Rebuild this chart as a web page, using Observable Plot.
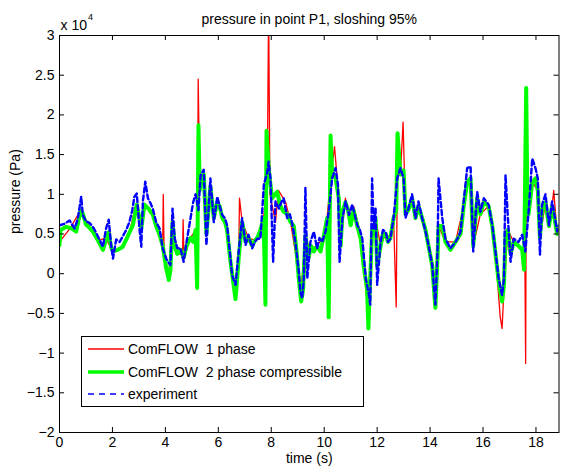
<!DOCTYPE html>
<html><head><meta charset="utf-8">
<script src="https://cdn.jsdelivr.net/npm/d3@7"></script>
<script src="https://cdn.jsdelivr.net/npm/@observablehq/plot@0.6"></script>
<style>body{margin:0;background:#fff} svg{display:block}</style>
</head><body><div id="chart"></div>
<script>
// [time (s), pressure (x 10^4 Pa)]
const experiment = [
  [0,0.61],[0.2,0.63],[0.38,0.67],[0.57,0.57],[0.69,0.69],[0.82,0.97],[0.88,0.74],[1.0,0.66],[1.13,0.64],[1.26,0.59],
  [1.38,0.52],[1.51,0.43],[1.64,0.34],[1.76,0.57],[1.86,0.68],[1.95,0.36],[2.02,0.19],[2.14,0.43],[2.27,0.40],[2.39,0.47],
  [2.52,0.55],[2.64,0.65],[2.75,0.80],[2.83,0.97],[2.92,1.01],[3.02,0.57],[3.09,0.34],[3.15,0.91],[3.24,1.16],[3.34,0.95],
  [3.45,0.88],[3.53,0.81],[3.65,0.65],[3.78,0.57],[3.9,0.32],[4.03,0.19],
  [4.1,0.15],[4.19,0.11],[4.27,0.82],[4.35,0.45],[4.45,0.32],[4.57,0.32],[4.69,0.15],[4.8,0.40],[4.95,0.70],[5.05,0.90],
  [5.14,1.00],[5.25,0.80],[5.33,1.24],[5.45,1.31],[5.55,0.36],[5.7,1.20],[5.83,0.65],[5.96,0.97],[6.05,0.85],[6.15,0.74],
  [6.25,0.70],[6.33,0.61],[6.46,0.19],[6.52,-0.02],[6.65,-0.14],[6.77,0.28],[6.9,0.70],[7.03,0.36],[7.14,0.49],[7.28,0.32],
  [7.38,0.40],[7.47,0.44],
  [7.59,0.44],[7.72,1.12],[7.85,1.28],[7.9,1.41],[7.97,1.20],[8.07,0.15],[8.16,0.91],[8.29,0.82],[8.38,0.90],[8.47,0.95],
  [8.6,0.70],[8.7,0.75],[8.79,0.63],[8.91,0.40],[9.04,0.03],[9.1,-0.23],[9.17,-0.31],[9.23,-0.06],[9.29,1.08],[9.33,0.50],
  [9.36,-0.06],[9.48,0.40],[9.61,0.53],[9.73,0.32],[9.82,0.45],[9.92,0.40],[10.05,0.53],[10.17,0.78],[10.3,1.20],[10.43,1.33],
  [10.52,1.12],[10.58,0.15],[10.69,0.70],[10.81,0.91],[10.94,0.74],[11.06,0.87],[11.15,0.75],[11.25,0.61],[11.35,0.55],[11.44,0.44],
  [11.57,-0.06],[11.69,-0.27],[11.74,-0.39],
  [11.81,1.20],[11.87,0.57],[11.94,0.82],[12.0,-0.14],[12.13,0.40],[12.22,0.55],[12.32,0.53],[12.41,0.40],[12.5,0.44],[12.62,0.70],
  [12.76,1.20],[12.88,1.33],[13.0,1.20],[13.07,0.70],[13.18,0.82],[13.32,1.00],[13.45,0.70],[13.56,0.91],[13.7,0.70],[13.83,0.53],
  [13.94,0.36],[14.08,0.11],[14.2,-0.39],[14.28,0.28],[14.32,1.20],[14.46,0.70],[14.58,0.44],[14.77,0.32],[14.96,0.40],[15.05,0.45],
  [15.15,0.53],[15.27,0.91],[15.4,1.33],[15.53,1.35],[15.63,0.28],[15.78,1.03],[15.9,0.78],[16.03,0.95],[16.21,0.87],[16.35,0.61],
  [16.47,0.28],[16.59,-0.06],[16.72,-0.27],[16.79,-0.06],[16.85,1.24],[16.94,0.70],[17.04,0.15],[17.16,0.44],[17.34,0.40],[17.48,0.49],
  [17.6,0.28],[17.72,0.78],[17.86,1.45],[17.98,1.33],[18.07,1.20],[18.15,0.24],[18.23,0.87],[18.36,1.00],[18.49,0.61],[18.61,0.91],
  [18.67,0.80],[18.8,0.53],[18.87,0.61]
];

const twoPhase = [
  [0,0.36],[0.04,0.55],[0.25,0.59],[0.45,0.57],[0.63,0.53],[0.8,0.80],[0.88,0.76],[1.0,0.62],[1.13,0.58],[1.26,0.53],
  [1.45,0.42],[1.64,0.30],[1.78,0.45],[1.86,0.52],[1.95,0.33],[2.02,0.28],[2.2,0.30],[2.39,0.34],[2.55,0.45],[2.77,0.61],
  [2.92,0.87],[3.02,0.70],[3.09,0.57],[3.21,0.87],[3.36,0.82],[3.53,0.74],[3.65,0.60],[3.78,0.49],[3.9,0.35],[4.03,0.07],
  [4.13,-0.08],
  [4.19,0.05],[4.27,0.65],[4.35,0.35],[4.45,0.25],[4.57,0.30],[4.69,0.20],[4.8,0.35],[4.95,0.45],[5.05,0.40],[5.14,0.55],
  [5.2,-0.18],[5.25,1.87],[5.3,1.05],[5.33,1.15],[5.45,1.25],[5.55,0.50],[5.7,1.10],[5.83,0.70],[5.96,0.90],[6.05,0.85],
  [6.15,0.70],[6.25,0.65],[6.33,0.55],[6.46,0.15],[6.52,0.0],[6.65,-0.32],[6.77,0.20],[6.9,0.65],[7.03,0.40],[7.14,0.45],
  [7.28,0.35],[7.38,0.42],[7.47,0.45],[7.59,0.55],[7.71,0.70],
  [7.78,-0.39],[7.82,1.80],[7.91,1.30],[8.03,0.95],[8.22,1.03],[8.35,0.85],[8.47,0.78],[8.6,0.75],[8.73,0.65],[8.85,0.60],
  [8.95,0.30],[9.04,-0.06],[9.13,-0.35],[9.2,-0.20],[9.29,0.48],[9.41,0.20],[9.5,0.35],[9.61,0.28],[9.73,0.35],[9.86,0.28],
  [9.97,0.45],[10.11,0.70],[10.17,-0.55],[10.24,1.74],[10.3,1.28],[10.43,1.20],[10.55,0.95],[10.62,0.35],[10.69,0.78],[10.8,0.90],
  [10.9,0.80],[11.0,0.61],[11.11,0.80],[11.25,0.60],[11.38,0.44],[11.49,0.10],[11.62,-0.20],[11.67,-0.69],[11.71,-0.30],
  [11.81,0.55],[11.87,0.50],[11.94,0.70],[12.0,0.10],[12.13,0.35],[12.22,0.50],[12.32,0.50],[12.41,0.40],[12.5,0.45],[12.62,0.70],
  [12.72,0.80],[12.77,1.77],[12.88,1.25],[13.0,1.30],[13.07,0.75],[13.18,0.80],[13.32,0.95],[13.45,0.70],[13.56,0.85],[13.7,0.70],
  [13.83,0.55],[13.94,0.35],[14.08,0.10],[14.2,-0.43],[14.28,0.20],[14.32,0.60],[14.46,0.60],[14.58,0.40],[14.77,0.30],[14.96,0.40],
  [15.05,0.45],[15.15,0.50],[15.27,0.85],[15.4,1.15],[15.53,1.20],[15.63,0.35],[15.78,0.95],[15.9,0.75],[16.03,0.90],[16.21,0.85],
  [16.35,0.60],[16.47,0.25],[16.59,-0.10],[16.72,-0.35],[16.79,-0.15],[16.85,0.50],[16.94,0.55],[17.04,0.25],[17.16,0.40],[17.34,0.35],
  [17.48,0.30],[17.55,0.05],[17.63,2.34],[17.68,0.80],[17.72,0.75],[17.86,1.15],[17.98,1.20],[18.07,1.05],[18.15,0.45],[18.23,0.80],
  [18.36,0.90],[18.49,0.60],[18.61,0.85],[18.67,0.75],[18.8,0.50],[18.87,0.55]
];

const onePhase = [
  [0,0.40],[0.4,0.57],[0.8,0.80],[1.2,0.56],[1.5,0.42],[1.75,0.45],[2.0,0.28],[2.3,0.32],[2.6,0.45],[2.87,0.85],
  [3.05,0.62],[3.22,0.87],[3.5,0.76],[3.75,0.52],[3.9,0.36],[3.92,1.00],[3.95,0.30],[4.12,-0.05],[4.27,0.65],[4.45,0.25],
  [4.65,0.25],[4.67,0.68],[4.7,0.25],[4.95,0.45],[5.14,0.55],[5.2,-0.1],[5.24,2.45],[5.3,1.05],[5.45,1.25],[5.55,0.50],
  [5.7,1.10],[5.83,0.70],[5.96,0.90],[6.15,0.70],[6.33,0.55],[6.46,0.15],[6.65,-0.22],[6.77,0.20],[6.8,0.95],[6.9,0.65],
  [7.14,0.45],[7.38,0.42],[7.59,0.55],[7.71,0.70],[7.85,1.2],[7.9,3.4],[7.95,1.0],[8.16,0.65],[8.27,1.05],[8.54,0.90],
  [8.73,0.65],[8.92,0.25],[9.1,-0.30],[9.29,0.45],[9.48,0.30],[9.7,0.35],[9.97,0.45],[10.11,0.70],[10.24,1.2],[10.39,1.6],
  [10.55,0.95],[10.62,0.35],[10.8,0.95],[10.99,0.65],[11.11,0.85],[11.3,0.60],[11.49,0.10],[11.67,-0.55],[11.81,0.55],[11.94,0.70],
  [12.13,0.35],[12.32,0.50],[12.5,0.45],[12.62,0.70],[12.72,-0.42],[12.77,1.6],[12.88,1.25],[12.98,1.91],[13.07,0.75],[13.32,0.95],
  [13.45,0.70],[13.56,0.85],[13.83,0.55],[14.08,0.10],[14.2,-0.38],[14.32,0.60],[14.58,0.40],[14.96,0.40],[15.27,0.85],[15.4,1.15],
  [15.53,1.20],[15.63,0.35],[15.9,0.75],[16.21,0.85],[16.47,0.25],[16.65,-0.55],[16.72,-0.69],[16.79,-0.20],[16.94,0.55],[17.16,0.40],
  [17.48,0.30],[17.58,0.2],[17.61,-1.13],[17.63,1.0],[17.7,0.80],[17.86,1.15],[18.07,1.05],[18.15,0.45],[18.36,0.90],[18.49,0.60],
  [18.61,0.85],[18.67,1.05],[18.8,0.50],[18.87,0.55]
];

const xTicks = [0,2,4,6,8,10,12,14,16,18];
const yTicks = [-2,-1.5,-1,-0.5,0,0.5,1,1.5,2,2.5,3];
const seriesNames = ["ComFLOW  1 phase", "ComFLOW  2 phase compressible", "experiment"];
const seriesColors = ["#ff0000", "#00ff00", "#0000ff"];
const title = "pressure in point P1, sloshing 95%";
const xLabel = "time (s)";
const yLabel = "pressure (Pa)";

const font = "'Liberation Sans', Arial, Helvetica, sans-serif";
const fmt = d => String(d).replace("-", "\u2212");
const W = 561, H = 466, mL = 59, mR = 2.5, mT = 35, mB = 34;
const innerW = W - mL - mR, innerH = H - mT - mB, tick = 5;

const chart = Plot.plot({
  width: W, height: H,
  marginLeft: mL, marginRight: mR, marginTop: mT, marginBottom: mB,
  style: {fontFamily: font, fontSize: "14px", background: "white", color: "black", overflow: "visible"},
  x: {domain: [0, 18.87]},
  y: {domain: [-2, 3]},
  marks: [
    Plot.line(onePhase, {x: d => d[0], y: d => d[1], stroke: seriesColors[0], strokeWidth: 1.3, clip: true}),
    Plot.line(twoPhase, {x: d => d[0], y: d => d[1], stroke: seriesColors[1], strokeWidth: 4, clip: true}),
    Plot.line(experiment, {x: d => d[0], y: d => d[1], stroke: seriesColors[2], strokeWidth: 2.4, strokeDasharray: "5,3", clip: true}),
    Plot.frame({stroke: "black", strokeWidth: 1}),
    Plot.tickX(xTicks, {x: d => d, insetTop: innerH - tick, stroke: "black"}),
    Plot.tickX(xTicks, {x: d => d, insetBottom: innerH - tick, stroke: "black"}),
    Plot.tickY(yTicks, {y: d => d, insetRight: innerW - tick, stroke: "black"}),
    Plot.tickY(yTicks, {y: d => d, insetLeft: innerW - tick, stroke: "black"}),
    Plot.axisX(xTicks, {anchor: "bottom", tickSize: 0, tickPadding: 5, label: null, fontSize: 14}),
    Plot.axisY(yTicks, {anchor: "left", tickSize: 0, tickPadding: 5, tickFormat: fmt, label: null, fontSize: 14}),
    Plot.text([title], {frameAnchor: "top", dy: -15.5, lineAnchor: "middle", fontSize: 14}),
    Plot.text(["x 10"], {frameAnchor: "top-left", dx: 1, dy: -10, textAnchor: "start", lineAnchor: "middle", fontSize: 14}),
    Plot.text(["4"], {frameAnchor: "top-left", dx: 28.5, dy: -18, textAnchor: "start", lineAnchor: "middle", fontSize: 9}),
    Plot.text([xLabel], {frameAnchor: "bottom", dy: 26, lineAnchor: "middle", fontSize: 14}),
    Plot.text([yLabel], {frameAnchor: "left", dx: -44, rotate: -90, lineAnchor: "middle", fontSize: 14})
  ]
});
document.getElementById("chart").appendChild(chart);

// legend box (lower left inside the axes)
const svg = d3.select(chart);
const lg = svg.append("g").attr("font-family", font).attr("font-size", 14).attr("text-anchor", "start");
lg.append("rect").attr("x", 81.5).attr("y", 336.5).attr("width", 282).attr("height", 70)
  .attr("fill", "white").attr("stroke", "black").attr("stroke-width", 1);
const rowY = [349, 372, 394];
const widths = [1.3, 3.5, 1.5];
const dashes = [null, null, "6,5"];
seriesNames.forEach((name, i) => {
  const l = lg.append("line").attr("x1", 88).attr("x2", 124).attr("y1", rowY[i]).attr("y2", rowY[i])
    .attr("stroke", seriesColors[i]).attr("stroke-width", widths[i]).attr("fill", "none");
  if (dashes[i]) l.attr("stroke-dasharray", dashes[i]);
  lg.append("text").attr("x", 128).attr("y", rowY[i]).attr("dy", "0.35em")
    .attr("text-anchor", "start").attr("fill", "black").text(name);
});
</script>
</body></html>
